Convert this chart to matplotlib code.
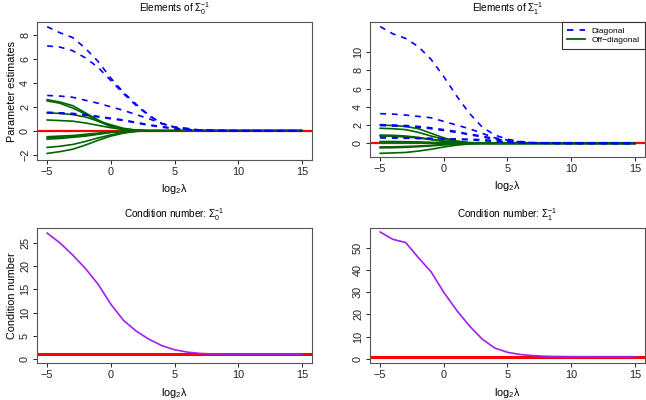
import numpy as np
import matplotlib.pyplot as plt

plt.rcParams['font.family'] = ['Liberation Sans', 'DejaVu Sans']
plt.rcParams['mathtext.fontset'] = 'custom'
plt.rcParams['mathtext.rm'] = 'Liberation Sans'
plt.rcParams['mathtext.it'] = 'Liberation Sans'

# log2(lambda) grid
loglam = np.arange(-5, 16)

# Sigma_0^{-1}: diagonal elements (dashed) and off-diagonal elements (solid)
diag0 = [
    [8.7, 8.2, 7.8, 6.9, 5.8, 4.4, 3.2, 2.2, 1.3, 0.6, 0.3, 0.15, 0.05, 0.02, 0.01, 0, 0, 0, 0, 0, 0],
    [7.1, 7.0, 6.7, 6.1, 5.3, 4.2, 3.1, 2.1, 1.25, 0.6, 0.3, 0.2, 0.06, 0.02, 0.01, 0, 0, 0, 0, 0, 0],
    [2.95, 2.9, 2.8, 2.55, 2.3, 2.0, 1.7, 1.35, 1.0, 0.6, 0.3, 0.12, 0.05, 0.02, 0.01, 0, 0, 0, 0, 0, 0],
    [1.55, 1.5, 1.45, 1.35, 1.2, 1.05, 0.9, 0.7, 0.5, 0.35, 0.2, 0.1, 0.04, 0.02, 0.01, 0, 0, 0, 0, 0, 0],
    [1.5, 1.45, 1.4, 1.3, 1.15, 1.0, 0.85, 0.65, 0.45, 0.3, 0.15, 0.08, 0.03, 0.01, 0, 0, 0, 0, 0, 0, 0],
]
off0 = [
    [2.6, 2.4, 2.1, 1.5, 0.9, 0.4, 0.15, 0.05, 0, 0, 0, 0, 0, 0, 0, 0, 0, 0, 0, 0, 0],
    [2.5, 2.3, 1.9, 1.4, 0.8, 0.35, 0.1, 0.03, 0, 0, 0, 0, 0, 0, 0, 0, 0, 0, 0, 0, 0],
    [1.5, 1.45, 1.35, 1.15, 0.8, 0.5, 0.2, 0.05, 0, 0, 0, 0, 0, 0, 0, 0, 0, 0, 0, 0, 0],
    [0.9, 0.85, 0.8, 0.65, 0.45, 0.25, 0.1, 0.03, 0, 0, 0, 0, 0, 0, 0, 0, 0, 0, 0, 0, 0],
    [-0.5, -0.45, -0.4, -0.3, -0.2, -0.1, -0.05, 0, 0, 0, 0, 0, 0, 0, 0, 0, 0, 0, 0, 0, 0],
    [-0.6, -0.55, -0.5, -0.4, -0.25, -0.12, -0.05, 0, 0, 0, 0, 0, 0, 0, 0, 0, 0, 0, 0, 0, 0],
    [-0.7, -0.65, -0.55, -0.45, -0.3, -0.15, -0.05, 0, 0, 0, 0, 0, 0, 0, 0, 0, 0, 0, 0, 0, 0],
    [-1.4, -1.3, -1.15, -0.9, -0.6, -0.35, -0.15, -0.05, 0, 0, 0, 0, 0, 0, 0, 0, 0, 0, 0, 0, 0],
    [-1.9, -1.75, -1.55, -1.2, -0.8, -0.45, -0.2, -0.05, 0, 0, 0, 0, 0, 0, 0, 0, 0, 0, 0, 0, 0],
]

# Sigma_1^{-1}
diag1 = [
    [12.8, 12.0, 11.5, 10.6, 9.2, 7.3, 5.2, 3.3, 1.8, 0.9, 0.45, 0.2, 0.08, 0.03, 0.01, 0, 0, 0, 0, 0, 0],
    [3.25, 3.2, 3.1, 2.95, 2.8, 2.4, 2.0, 1.6, 1.1, 0.6, 0.35, 0.15, 0.05, 0.02, 0.01, 0, 0, 0, 0, 0, 0],
    [2.05, 2.0, 1.95, 1.85, 1.7, 1.5, 1.3, 1.0, 0.8, 0.5, 0.25, 0.1, 0.04, 0.01, 0, 0, 0, 0, 0, 0, 0],
    [1.95, 1.9, 1.85, 1.75, 1.6, 1.4, 1.2, 0.95, 0.7, 0.45, 0.2, 0.08, 0.03, 0.01, 0, 0, 0, 0, 0, 0, 0],
    [0.65, 0.62, 0.6, 0.58, 0.55, 0.52, 0.48, 0.45, 0.4, 0.3, 0.15, 0.06, 0.02, 0.01, 0, 0, 0, 0, 0, 0, 0],
    [0.6, 0.58, 0.55, 0.52, 0.5, 0.47, 0.43, 0.38, 0.3, 0.2, 0.1, 0.04, 0.01, 0, 0, 0, 0, 0, 0, 0, 0],
]
off1 = [
    [2.0, 1.95, 1.85, 1.6, 1.1, 0.6, 0.25, 0.08, 0.02, 0, 0, 0, 0, 0, 0, 0, 0, 0, 0, 0, 0],
    [1.65, 1.6, 1.5, 1.2, 0.8, 0.45, 0.2, 0.05, 0.01, 0, 0, 0, 0, 0, 0, 0, 0, 0, 0, 0, 0],
    [0.9, 0.88, 0.8, 0.65, 0.45, 0.25, 0.1, 0.03, 0, 0, 0, 0, 0, 0, 0, 0, 0, 0, 0, 0, 0],
    [0.8, 0.77, 0.7, 0.58, 0.4, 0.22, 0.1, 0.03, 0, 0, 0, 0, 0, 0, 0, 0, 0, 0, 0, 0, 0],
    [0.2, 0.2, 0.18, 0.15, 0.1, 0.06, 0.03, 0.01, 0, 0, 0, 0, 0, 0, 0, 0, 0, 0, 0, 0, 0],
    [0.1, 0.1, 0.09, 0.07, 0.05, 0.03, 0.01, 0, 0, 0, 0, 0, 0, 0, 0, 0, 0, 0, 0, 0, 0],
    [-0.4, -0.38, -0.35, -0.3, -0.22, -0.13, -0.06, -0.02, 0, 0, 0, 0, 0, 0, 0, 0, 0, 0, 0, 0, 0],
    [-0.5, -0.48, -0.44, -0.37, -0.28, -0.17, -0.08, -0.03, 0, 0, 0, 0, 0, 0, 0, 0, 0, 0, 0, 0, 0],
    [-1.1, -1.05, -1.0, -0.85, -0.65, -0.4, -0.2, -0.07, -0.02, 0, 0, 0, 0, 0, 0, 0, 0, 0, 0, 0, 0],
]

# condition numbers
cond0 = [27.1, 25.0, 22.4, 19.5, 16.1, 11.8, 8.3, 6.0, 4.25, 2.9, 2.0, 1.5, 1.2, 1.1, 1.08,
         1.07, 1.07, 1.06, 1.06, 1.06, 1.06]
cond1 = [57.0, 53.7, 52.3, 45.5, 39.1, 29.9, 21.9, 14.9, 9.0, 4.9, 3.0, 2.0, 1.5, 1.2, 1.1,
         1.05, 1.04, 1.03, 1.03, 1.03, 1.03]

BLUE = '#0000FF'
GREEN = '#006400'
RED = '#FF0000'
PURPLE = '#A020F0'
FS = 7.8
DASH = (0, (3.5, 3.5))


def style(ax, title, xticks, yticks, xlim, ylim, ylabel=None):
    ax.set_xlim(*xlim)
    ax.set_ylim(*ylim)
    ax.set_xticks(xticks)
    ax.set_yticks(yticks)
    ax.tick_params(labelsize=FS, length=3, width=0.7, pad=2, colors='#222222')
    for lab in ax.get_yticklabels():
        lab.set_rotation(90)
        lab.set_va('center')
    for s in ax.spines.values():
        s.set_color('#555555')
        s.set_linewidth(0.8)
    ax.set_title(title, fontsize=7.2, pad=7)
    ax.set_xlabel(r'log$_2\lambda$', fontsize=FS, labelpad=4)
    if ylabel:
        ax.set_ylabel(ylabel, fontsize=FS, labelpad=2)


fig = plt.figure(figsize=(6.46, 4.0), dpi=100)

xl = (-5.8, 15.8)

# top-left
ax = fig.add_axes([37 / 646, 0.60, 275 / 646, 0.345])
ax.axhline(0, color=RED, lw=1.6, zorder=1)
for d in off0:
    ax.plot(loglam, d, color=GREEN, lw=1.2, zorder=2)
for d in diag0:
    ax.plot(loglam, d, color=BLUE, lw=1.2, ls=DASH, zorder=3)
style(ax, r'Elements of $\Sigma_0^{-1}$', [-5, 0, 5, 10, 15], [-2, 0, 2, 4, 6, 8],
      xl, (-2.45, 9.1), 'Parameter estimates')

# top-right
ax = fig.add_axes([370 / 646, 0.6075, 275 / 646, 0.3375])
ax.axhline(0, color=RED, lw=1.6, zorder=1)
for d in off1:
    ax.plot(loglam, d, color=GREEN, lw=1.2, zorder=2)
for d in diag1:
    ax.plot(loglam, d, color=BLUE, lw=1.2, ls=DASH, zorder=3)
style(ax, r'Elements of $\Sigma_1^{-1}$', [-5, 0, 5, 10, 15], [0, 2, 4, 6, 8, 10],
      xl, (-1.5, 13.3))
ax.plot([], [], color=BLUE, lw=1.3, ls=DASH, label='Diagonal')
ax.plot([], [], color=GREEN, lw=1.3, label='Off\u2212diagonal')
leg = ax.legend(loc='upper right', fontsize=6, fancybox=False, framealpha=1,
                borderaxespad=0, handlelength=2.2, borderpad=0.6, labelspacing=0.2)
leg.get_frame().set_edgecolor('#333333')
leg.get_frame().set_linewidth(0.8)

# bottom-left
ax = fig.add_axes([37 / 646, 0.0925, 275 / 646, 0.3375])
ax.axhline(1, color=RED, lw=2.2, zorder=1)
ax.plot(loglam, cond0, color=PURPLE, lw=1.2, zorder=2)
style(ax, r'Condition number: $\Sigma_0^{-1}$', [-5, 0, 5, 10, 15], [0, 5, 10, 15, 20, 25],
      xl, (-0.85, 28.2), 'Condition number')

# bottom-right
ax = fig.add_axes([370 / 646, 0.0925, 275 / 646, 0.3375])
ax.axhline(1, color=RED, lw=2.2, zorder=1)
ax.plot(loglam, cond1, color=PURPLE, lw=1.2, zorder=2)
style(ax, r'Condition number: $\Sigma_1^{-1}$', [-5, 0, 5, 10, 15], [0, 10, 20, 30, 40, 50],
      xl, (-1.8, 58.8))

fig.savefig('out.png', dpi=100)
